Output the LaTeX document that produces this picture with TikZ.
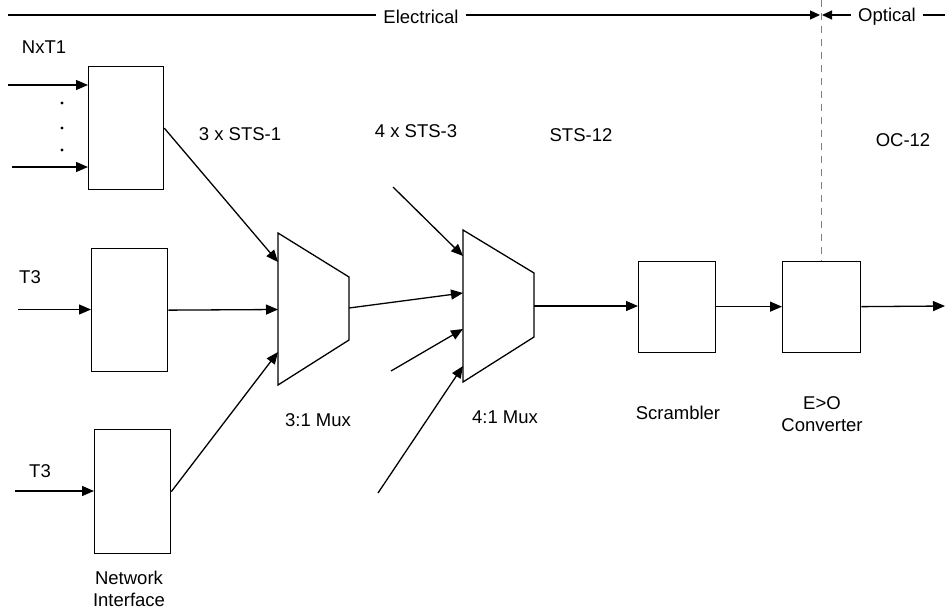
\documentclass[tikz,border=0pt]{standalone}
\usepackage{fontspec}
\setmainfont{Liberation Sans}
\usetikzlibrary{arrows.meta}
\begin{document}
\begin{tikzpicture}[x=1pt,y=-1pt,
  line width=1.3pt,
  blk/.style={draw, inner sep=0pt, anchor=north west, line width=1.3pt},
  conn/.style={-{Triangle[length=12pt,width=10pt]}},
  tick/.style={-{Triangle[length=10pt,width=9pt]}},
  lbl/.style={font=\fontsize{18.5}{22}\selectfont, inner sep=0pt},
  toplbl/.style={font=\fontsize{18.5}{22}\selectfont, inner sep=7pt},
  mux/.style={draw, line width=1.3pt, line join=miter}]
\useasboundingbox (0,0) rectangle (945,613);

% top bar
\node[toplbl] (elec) at (421,17) {Electrical};
\node[toplbl] (opt) at (887,17) {Optical};
\coordinate (tl) at (8,15);
\coordinate (tr) at (945,15);
\coordinate (ta) at (820,15);
\coordinate (tb) at (822,15);
\draw (tl) -- (tl -| elec.west);
\draw[tick] (tl -| elec.east) -- (ta);
\draw[tick] (tl -| opt.west) -- (tb);
\draw (tl -| opt.east) -- (tr);

% boxes
\node[blk, minimum width=75pt, minimum height=123pt] (nxt) at (88,66) {};
\node[blk, minimum width=76pt, minimum height=123pt] (mid) at (91,248) {};
\node[blk, minimum width=76pt, minimum height=124pt] (ni) at (94,429) {};
\node[blk, minimum width=77pt, minimum height=91pt] (scr) at (638,260.5) {};
\node[blk, minimum width=78pt, minimum height=91pt] (eo) at (782,260.5) {};

% dashed divider
\coordinate (dtop) at (821,0);
\draw[gray, line width=1pt, dash pattern=on 7pt off 6pt] (dtop) -- (dtop |- eo.north);

% mux 1
\coordinate (m1a) at (278,233);
\coordinate (m1b) at (349,277);
\coordinate (m1c) at (349,340);
\coordinate (m1d) at (278,385);
\draw[mux] (m1a) -- (m1b) -- (m1c) -- (m1d) -- cycle;
\coordinate (m1i1) at (278,262);
\coordinate (m1i2) at (278,309.5);
\coordinate (m1i3) at (278,352);
\coordinate (m1o) at (349,308);

% mux 2
\coordinate (m2a) at (463,230);
\coordinate (m2b) at (534,273);
\coordinate (m2c) at (534,337);
\coordinate (m2d) at (463,382);
\draw[mux] (m2a) -- (m2b) -- (m2c) -- (m2d) -- cycle;
\coordinate (m2i1) at (463,256);
\coordinate (m2i2) at (463,293);
\coordinate (m2i3) at (463,329);
\coordinate (m2i4) at (463,366);
\coordinate (m2o) at (534,306);

% inputs
\coordinate (i1) at (8,85);
\coordinate (i2) at (12,167);
\coordinate (i3) at (18,309.5);
\coordinate (i4) at (15,491);
\draw[conn] (i1) -- (i1 -| nxt.west);
\draw[conn] (i2) -- (i2 -| nxt.west);
\draw[conn] (i3) -- (i3 -| mid.west);
\draw[conn] (i4) -- (i4 -| ni.west);

% dots
\fill (62,103) circle (1.7pt);
\fill (62,128) circle (1.7pt);
\fill (62,150) circle (1.7pt);

% to mux1
\draw[conn] (nxt.east) -- (m1i1);
\draw[conn] (mid.east) -- (m1i2);
\draw[conn] (ni.east) -- (m1i3);

% to mux2
\coordinate (s1) at (393,187);
\coordinate (s3) at (391,371);
\coordinate (s4) at (378,493);
\draw[conn] (s1) -- (m2i1);
\draw[conn] (m1o) -- (m2i2);
\draw[conn] (s3) -- (m2i3);
\draw[conn] (s4) -- (m2i4);

% chain
\draw[conn] (m2o) -- (m2o -| scr.west);
\draw[conn] (scr.east) -- (eo.west);
\coordinate (out) at (945,306);
\draw[conn] (eo.east) -- (out);

% labels
\node[lbl] (lnxt) at (44,47) {NxT1};
\node[lbl] (lt3a) at (30,277) {T3};
\node[lbl] (lt3b) at (40,471) {T3};
\node[lbl] (lsts1) at (240,134) {3 x STS-1};
\node[lbl] (lsts3) at (416,131) {4 x STS-3};
\node[lbl] (lsts12) at (581,135) {STS-12};
\node[lbl] (loc) at (903,140) {OC-12};
\node[lbl] (lm1) at (318,420) {3:1 Mux};
\node[lbl] (lm2) at (505,417) {4:1 Mux};
\node[lbl] (lscr) at (678,413) {Scrambler};
\node[lbl, align=center] (leo) at (822,414) {E>O\\Converter};
\node[lbl, align=center] (lni) at (129,589) {Network\\Interface};
\end{tikzpicture}
\end{document}
